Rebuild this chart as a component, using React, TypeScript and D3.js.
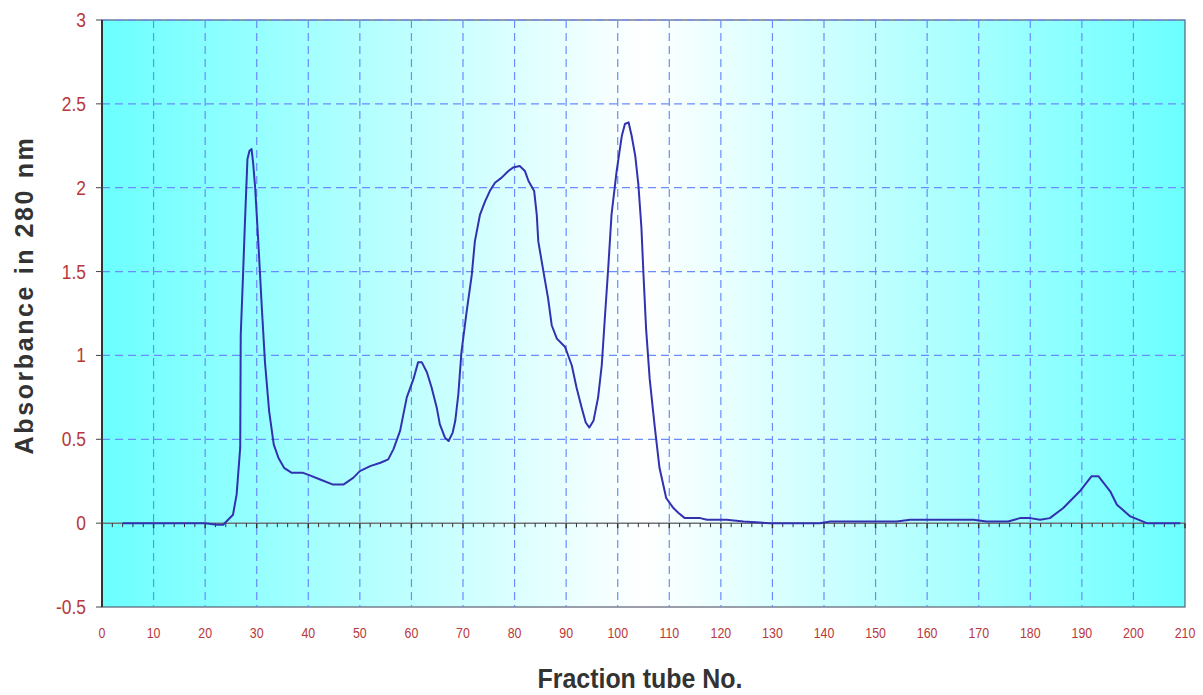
import React from "react";
import * as d3 from "d3";

const tube: number[] = [4, 10, 20, 22.3, 23.5, 25.4, 26.1, 26.8, 26.9, 27.3, 27.7, 28.2, 28.6, 29.0, 29.3, 29.7, 30.3, 31.0, 31.6, 32.4, 33.3, 34.2, 35.3, 36.8, 39.0, 40.3, 42.3, 44.8, 46.8, 48.7, 50.0, 52, 54, 55.5, 56.5, 57.8, 59.1, 60.4, 61.3, 62.0, 63.0, 63.9, 64.9, 65.5, 66.5, 67.2, 68.0, 68.5, 69.1, 69.7, 70.7, 71.7, 72.3, 73.3, 74.3, 75.2, 76.2, 77.5, 78.8, 79.7, 81.0, 82.0, 82.7, 83.8, 84.3, 84.6, 85.6, 86.5, 87.2, 88.2, 89.8, 91.1, 92.0, 93.0, 93.8, 94.5, 95.3, 96.2, 96.9, 97.5, 98.2, 98.8, 99.8, 100.8, 101.4, 102.1, 102.7, 103.4, 104.0, 104.6, 105.0, 105.5, 106.2, 107.2, 108.1, 109.4, 110.8, 111.8, 113.0, 116, 117.3, 121.1, 124.4, 129.5, 139.2, 141.2, 154.1, 156.7, 169.0, 171.5, 175.7, 178.0, 180, 181.9, 183.8, 186.4, 189.6, 191.9, 193.2, 195.5, 196.8, 199.4, 202.6, 209.1];
const absorbance: number[] = [0, 0, 0, -0.01, -0.01, 0.05, 0.17, 0.45, 1.12, 1.44, 1.78, 2.17, 2.22, 2.23, 2.15, 2.0, 1.68, 1.28, 0.96, 0.67, 0.47, 0.39, 0.33, 0.30, 0.30, 0.285, 0.26, 0.23, 0.23, 0.27, 0.31, 0.34, 0.36, 0.38, 0.44, 0.55, 0.75, 0.86, 0.96, 0.96, 0.90, 0.81, 0.69, 0.59, 0.51, 0.49, 0.54, 0.61, 0.77, 1.02, 1.26, 1.48, 1.68, 1.84, 1.92, 1.98, 2.03, 2.06, 2.10, 2.12, 2.13, 2.10, 2.04, 1.98, 1.84, 1.68, 1.50, 1.34, 1.18, 1.10, 1.05, 0.94, 0.81, 0.69, 0.60, 0.57, 0.61, 0.75, 0.94, 1.22, 1.54, 1.84, 2.10, 2.31, 2.38, 2.39, 2.31, 2.19, 2.02, 1.76, 1.48, 1.16, 0.86, 0.57, 0.33, 0.15, 0.09, 0.06, 0.03, 0.03, 0.02, 0.02, 0.01, 0, 0, 0.01, 0.01, 0.02, 0.02, 0.01, 0.01, 0.03, 0.03, 0.02, 0.03, 0.09, 0.19, 0.28, 0.28, 0.19, 0.11, 0.04, 0, 0];

const xTicks: number[] = d3.range(0, 211, 10);
const xMinorTicks: number[] = d3.range(0, 211, 2);
const yTicks: number[] = [-0.5, 0, 0.5, 1, 1.5, 2, 2.5, 3];
const yTickLabels: string[] = ["-0.5", "0", "0.5", "1", "1.5", "2", "2.5", "3"];
const xTitle = "Fraction tube No.";
const yTitle = "Absorbance in 280 nm";

export default function App() {
  const W = 1203, H = 695;
  const left = 102, right = 1185, top = 20, bottom = 607;
  const x = d3.scaleLinear().domain([0, 210]).range([left, right]);
  const y = d3.scaleLinear().domain([-0.5, 3]).range([bottom, top]);
  const pts: [number, number][] = tube.map((t, i) => [t, absorbance[i]]);
  const line = d3.line<[number, number]>().x(d => x(d[0])).y(d => y(d[1]));
  const labelColor = "#b8383a";
  const gridColor = "#6a8cff";
  const font = "'Liberation Sans', Arial, sans-serif";

  return (
    <svg width={W} height={H} style={{ position: "absolute", left: 0, top: 0, background: "#fff" }}>
      <defs>
        <linearGradient id="bg" x1="0" x2="1" y1="0" y2="0">
          <stop offset="0%" stopColor="#6bffff" />
          <stop offset="50%" stopColor="#ffffff" />
          <stop offset="100%" stopColor="#6bffff" />
        </linearGradient>
      </defs>
      <rect x={left} y={top} width={right - left} height={bottom - top} fill="url(#bg)" stroke="#5a6070" strokeWidth={1.2} />
      {xTicks.filter(t => t > 0 && t < 210).map(t => (
        <line key={"vg" + t} x1={x(t)} x2={x(t)} y1={top} y2={bottom} stroke={gridColor} strokeWidth={1.2} strokeDasharray="8,5" />
      ))}
      {yTicks.filter(t => t !== 0 && t !== -0.5).map(t => (
        <line key={"hg" + t} x1={left} x2={right} y1={y(t)} y2={y(t)} stroke={gridColor} strokeWidth={1.2} strokeDasharray="8,5" />
      ))}
      <line x1={left} x2={right} y1={y(0)} y2={y(0)} stroke="#707478" strokeWidth={1.5} />
      {xMinorTicks.map(t => (
        <line key={"mt" + t} x1={x(t)} x2={x(t)} y1={y(0)} y2={y(0) + (t % 10 === 0 ? 5 : 4)} stroke="#333" strokeWidth={t % 10 === 0 ? 1.5 : 1} />
      ))}
      <line x1={left} x2={left} y1={top} y2={bottom} stroke="#333" strokeWidth={2} />
      {yTicks.map(t => (
        <line key={"yt" + t} x1={left - 6} x2={left} y1={y(t)} y2={y(t)} stroke="#444" strokeWidth={1} />
      ))}
      <path d={line(pts) || ""} fill="none" stroke="#3232b0" strokeWidth={2} strokeLinejoin="round" />
      {yTicks.map((t, i) => (
        <text key={"yl" + t} transform={`translate(86,${y(t) + 7}) scale(0.87,1)`} textAnchor="end" fontFamily={font} fontSize={20} fill={labelColor}>
          {yTickLabels[i]}
        </text>
      ))}
      {xTicks.map(t => (
        <text key={"xl" + t} transform={`translate(${x(t)},638) scale(0.8,1)`} textAnchor="middle" fontFamily={font} fontSize={15.5} fill={labelColor}>
          {t}
        </text>
      ))}
      <text x={640} y={688} textAnchor="middle" fontFamily={font} fontSize={27} fontWeight="bold" fill="#333" textLength={205} lengthAdjust="spacingAndGlyphs">
        {xTitle}
      </text>
      <text transform="translate(33,295) rotate(-90)" textAnchor="middle" fontFamily={font} fontSize={25} fontWeight="bold" fill="#333" letterSpacing={2.6}>
        {yTitle}
      </text>
    </svg>
  );
}
